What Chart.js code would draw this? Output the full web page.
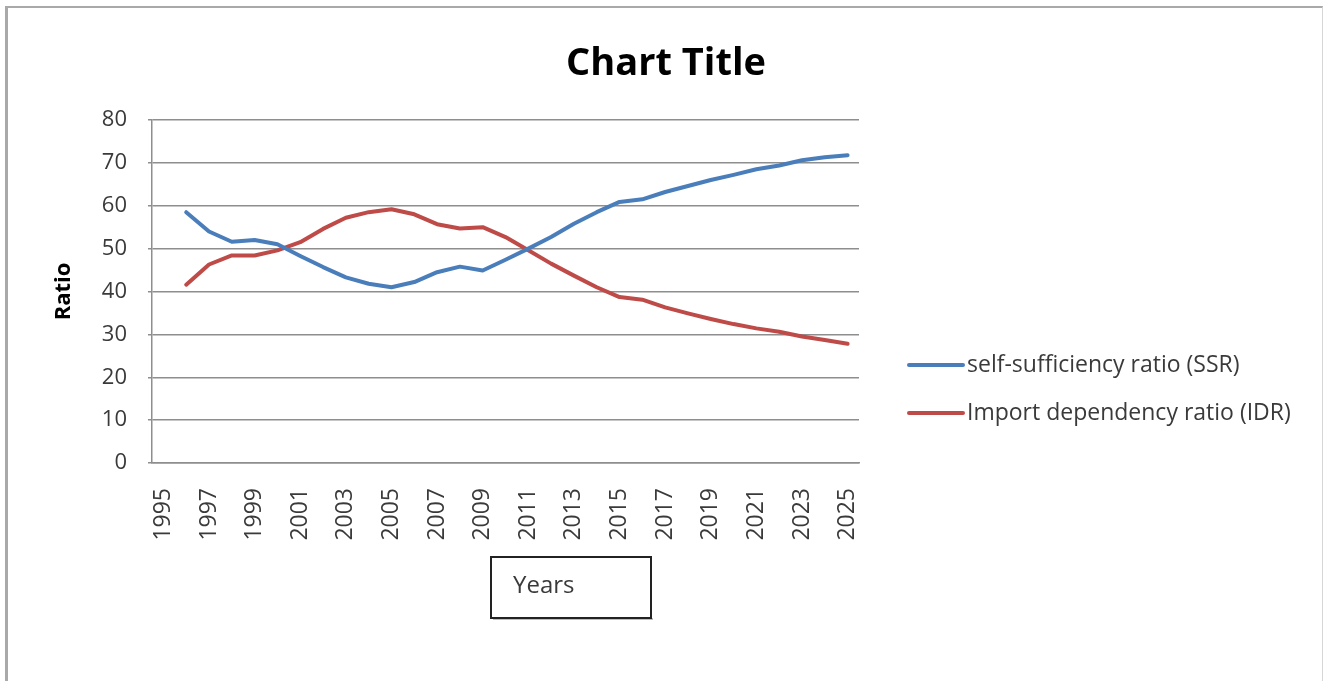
<!DOCTYPE html>
<html>
<head>
<meta charset="utf-8">
<script src="https://cdn.jsdelivr.net/npm/chart.js@4/dist/chart.umd.min.js"></script>
<style>
  html, body { margin: 0; padding: 0; background: #fff; }
  #wrap { position: relative; width: 1324px; height: 681px; }
  #frame {
    position: absolute; left: 5px; top: 6px; right: 1px; bottom: -4px;
    border-left: 3px solid #a9a9a9; border-top: 2px solid #a9a9a9; border-right: 1px solid #d6d6d6;
    pointer-events: none;
  }
</style>
</head>
<body>
<div id="wrap">
  <canvas id="chart"></canvas>
  <div id="frame"></div>
</div>
<script>
var years = ["1995","1996","1997","1998","1999","2000","2001","2002","2003","2004","2005",
             "2006","2007","2008","2009","2010","2011","2012","2013","2014","2015",
             "2016","2017","2018","2019","2020","2021","2022","2023","2024","2025"];

// self-sufficiency ratio, no value for 1995
var ssr = [null, 58.5, 54.0, 51.6, 52.0, 51.0, 48.3, 45.7, 43.3, 41.8, 41.0,
           42.2, 44.5, 45.8, 44.9, 47.4, 50.0, 52.7, 55.8, 58.5, 60.9,
           61.5, 63.2, 64.6, 66.0, 67.2, 68.5, 69.4, 70.6, 71.3, 71.8];

// import dependency ratio
var idr = [null, 41.6, 46.3, 48.4, 48.4, 49.6, 51.5, 54.6, 57.2, 58.5, 59.2,
           58.0, 55.7, 54.7, 55.0, 52.7, 49.6, 46.5, 43.7, 41.0, 38.7,
           38.1, 36.3, 34.9, 33.6, 32.4, 31.4, 30.6, 29.5, 28.7, 27.8];

var seriesNames = ["self-sufficiency ratio (SSR)", "Import dependency ratio (IDR)"];
var seriesColors = ["#4a7ebb", "#be4b48"];

var FONT = "'Open Sans', Lato, sans-serif";
var TEXT = "#3a3a3a";

// title across the whole canvas, legend lines, boxed "Years" caption
var extras = {
  id: "extras",
  afterDraw: function (chart) {
    var c = chart.ctx, a = chart.chartArea;
    c.save();

    c.fillStyle = "#000";
    c.font = "bold 38px " + FONT;
    c.textAlign = "center";
    c.textBaseline = "alphabetic";
    c.fillText("Chart Title", chart.width / 2 + 4, 75);

    c.font = "23px " + FONT;
    c.textBaseline = "middle";
    c.textAlign = "left";
    chart.data.datasets.forEach(function (ds, i) {
      var y = 365 + i * 48;
      c.strokeStyle = ds.borderColor;
      c.lineWidth = 4;
      c.lineCap = "round";
      c.beginPath();
      c.moveTo(a.right + 50, y);
      c.lineTo(a.right + 104, y);
      c.stroke();
      c.fillStyle = TEXT;
      c.fillText(ds.label, a.right + 108, y);
    });

    var bx = a.left + 339, by = a.bottom + 94, bw = 160, bh = 61;
    c.fillStyle = "#bdbdbd";
    c.fillRect(bx + 2, by + bh, bw, 2);
    c.strokeStyle = "#222";
    c.lineWidth = 2;
    c.strokeRect(bx, by, bw, bh);
    c.fillStyle = TEXT;
    c.font = "24px " + FONT;
    c.fillText("Years", bx + 22, by + 29);
    c.restore();
  }
};

new Chart(document.getElementById("chart"), {
  type: "line",
  data: {
    labels: years,
    datasets: [
      { label: seriesNames[0], data: ssr, borderColor: seriesColors[0], backgroundColor: seriesColors[0] },
      { label: seriesNames[1], data: idr, borderColor: seriesColors[1], backgroundColor: seriesColors[1] }
    ]
  },
  options: {
    responsive: true,
    maintainAspectRatio: false,
    animation: false,
    layout: { padding: { left: 0, right: 465, top: 120, bottom: 0 } },
    elements: {
      line: { borderWidth: 4, tension: 0, borderJoinStyle: "round", borderCapStyle: "round" },
      point: { radius: 0, hoverRadius: 0 }
    },
    plugins: {
      legend: { display: false },
      tooltip: { enabled: false },
      title: { display: false }
    },
    scales: {
      x: {
        offset: true,
        grid: { display: false, drawTicks: false },
        border: { display: true, color: "#8e8e8e", width: 1.5 },
        ticks: {
          autoSkip: false,
          minRotation: 90,
          maxRotation: 90,
          padding: 25,
          color: TEXT,
          font: { family: FONT, size: 23 },
          callback: function (v, i) { return i % 2 === 0 ? years[i] : ""; }
        },
        afterFit: function (s) { s.height = 218; }
      },
      y: {
        min: 0,
        max: 80,
        ticks: { stepSize: 10, padding: 21, color: TEXT, font: { family: FONT, size: 22 } },
        grid: { color: "#8e8e8e", lineWidth: 1.5, tickLength: 4 },
        border: { display: true, color: "#8e8e8e", width: 1.5 },
        title: {
          display: true,
          text: "Ratio",
          color: "#000",
          font: { family: FONT, size: 22, weight: "bold" },
          padding: { top: 51 }
        },
        afterFit: function (s) { s.width = 152; }
      }
    }
  },
  plugins: [extras]
});
</script>
</body>
</html>
